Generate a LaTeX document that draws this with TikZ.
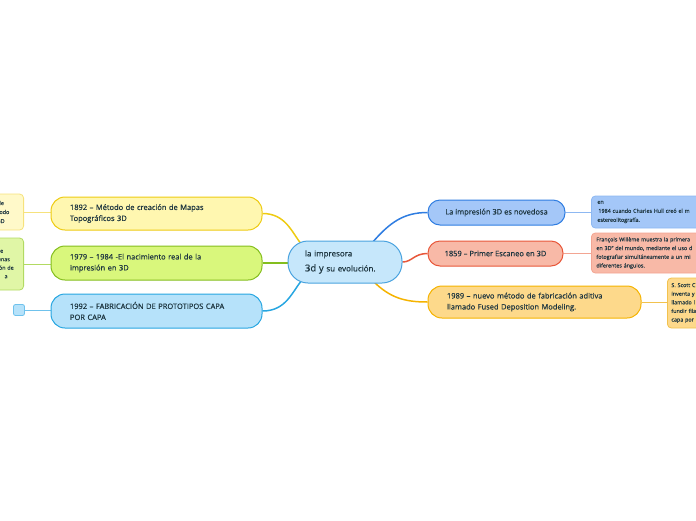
\documentclass[tikz,border=0pt]{standalone}
\usepackage{fontspec}
\setmainfont{Open Sans}
\newfontfamily\semib[FakeBold=0.5]{Open Sans}
\newfontfamily\leaffont[FakeBold=0.2]{Open Sans}
\usetikzlibrary{backgrounds}
\definecolor{txt}{HTML}{1E3640}
\definecolor{cenF}{HTML}{C6E7FB}
\definecolor{cenD}{HTML}{4AA3DF}
\definecolor{yelF}{HTML}{FFF7B0}
\definecolor{yelD}{HTML}{EECB12}
\definecolor{yelLF}{HTML}{FFF9C9}
\definecolor{yelLD}{HTML}{F6E27C}
\definecolor{grnF}{HTML}{D9F77C}
\definecolor{grnD}{HTML}{84BE1E}
\definecolor{grnLF}{HTML}{E0F6A6}
\definecolor{grnLD}{HTML}{B2DA62}
\definecolor{bluF}{HTML}{B6E2FA}
\definecolor{bluD}{HTML}{27A6E1}
\definecolor{bluLD}{HTML}{6FC2EC}
\definecolor{r1F}{HTML}{A4C7F8}
\definecolor{r1D}{HTML}{2F7DE1}
\definecolor{r1L}{HTML}{8DB8F2}
\definecolor{r2F}{HTML}{F8B9A7}
\definecolor{r2D}{HTML}{E8573A}
\definecolor{r2L}{HTML}{F3A592}
\definecolor{r3F}{HTML}{FDD98B}
\definecolor{r3D}{HTML}{F5B300}
\definecolor{r3L}{HTML}{F2C24E}
\tikzset{
  mainbox/.style={draw, rounded corners=14pt, line width=1pt, text=txt,
    font=\semib\fontsize{7.5}{11}\selectfont, align=left, inner ysep=0pt},
  leafbox/.style={draw, rounded corners=4pt, line width=0.8pt, text=txt,
    font=\leaffont\fontsize{5.4}{9}\selectfont, align=left, inner ysep=0pt},
  trunk/.style={line width=1.5pt},
  twig/.style={line width=1pt}
}
\begin{document}
\begin{tikzpicture}[x=1pt,y=-1pt]
\useasboundingbox (0,0) rectangle (696,520);
\clip (0,0) rectangle (696,520);

% centre
\node[draw=cenD, fill=cenF, rounded corners=20pt, line width=1pt, text=txt,
  minimum width=114, minimum height=42, text width=80, inner xsep=17, inner ysep=0pt,
  align=left, font=\semib\fontsize{8}{15}\selectfont] (c) at (345,262)
  {la impresora\\{\fontsize{9.5}{15}\selectfont 3d y} su evolución.};

% left main nodes
\node[mainbox, fill=yelF, draw=yelD, minimum width=211, minimum height=33,
  text width=173, inner xsep=19] (n1) at (156.5,213.5)
  {1892 – Método de creación de Mapas\\Topográficos 3D};
\node[mainbox, fill=grnF, draw=grnD, minimum width=211, minimum height=34,
  text width=173, inner xsep=19] (n2) at (156.5,263)
  {1979 – 1984 -El nacimiento real de la\\impresión en 3D};
\node[mainbox, fill=bluF, draw=bluD, minimum width=211, minimum height=34,
  text width=173, inner xsep=19] (n3) at (156.5,311)
  {1992 – FABRICACIÓN DE PROTOTIPOS CAPA\\POR CAPA};

% left leaves
\node[leafbox, fill=yelLF, draw=yelLD, anchor=east, minimum height=36,
  text width=20, inner xsep=6] (ll1) at (24,212) {de\\todo\\3D};
\node[leafbox, fill=grnLF, draw=grnLD, anchor=east, minimum height=52,
  text width=20, inner xsep=6, font=\leaffont\fontsize{5.4}{8.5}\selectfont] (ll2) at (24,264)
  {se\\unas\\ión de\\\hspace*{7pt}a};
\node[draw=bluLD, fill=bluF, rounded corners=2pt, line width=0.8pt,
  minimum size=11, inner sep=0pt] (sq) at (19,310) {};

% right main nodes
\node[mainbox, fill=r1F, draw=r1D, minimum width=137, minimum height=25,
  rounded corners=12pt, align=center, inner xsep=0pt] (r1) at (496.5,212.5)
  {La impresión 3D es novedosa};
\node[mainbox, fill=r2F, draw=r2D, minimum width=135, minimum height=25,
  rounded corners=12pt, align=center, inner xsep=0pt] (r2) at (495.5,253.5)
  {1859 – Primer Escaneo en 3D};
\node[mainbox, fill=r3F, draw=r3D, minimum width=213, minimum height=32,
  text width=175, inner xsep=19] (r3) at (534.5,302)
  {1989 – nuevo método de fabricación aditiva\\llamado Fused Deposition Modeling.};

% right leaves
\node[leafbox, fill=r1F, draw=r1L, anchor=west, minimum height=32,
  text width=188, inner xsep=6] (l1) at (591,212)
  {en\\\hspace*{1pt}1984 cuando Charles Hull creó el m\\estereolitografía.};
\node[leafbox, fill=r2F, draw=r2L, anchor=west, minimum height=40,
  text width=188, inner xsep=5, font=\leaffont\fontsize{5.4}{8.7}\selectfont] (l2) at (591,253)
  {François Willème muestra la primera\\en 3D” del mundo, mediante el uso d\\fotografiar simultáneamente a un mi\\diferentes ángulos.};
\node[leafbox, fill=r3F, draw=r3L, anchor=west, minimum height=50,
  text width=120, inner xsep=4, font=\leaffont\fontsize{5.4}{8.6}\selectfont] (l3) at (667,303)
  {S. Scott C\\inventa y\\llamado l\\fundir fila\\capa por};

\begin{scope}[on background layer]
  \coordinate (cy) at (302,245);
  \coordinate (cb) at (302,280);
  \coordinate (cr1) at (372,243);
  \coordinate (cr3) at (373,281);
  \draw[trunk, yelD] (n1.east) .. controls (286,213.5) and (292,233) .. (cy);
  \draw[trunk, grnD] (n2.east) -- (c.west |- n2.east);
  \draw[trunk, bluD] (n3.east) .. controls (286,311) and (292,292) .. (cb);
  \draw[trunk, r1D] (cr1) .. controls (390,222) and (404,212.5) .. (r1.west);
  \draw[trunk, r2D] (c.east) .. controls (412,262) and (414,253.5) .. (r2.west);
  \draw[trunk, r3D] (cr3) .. controls (390,298) and (405,302) .. (r3.west);
  \draw[twig, yelLD] (ll1.east) -- (ll1.east -| n1.west);
  \draw[twig, grnLD] (ll2.east) -- (ll2.east -| n2.west);
  \draw[twig, bluLD] (sq.east) -- (sq.east -| n3.west);
  \draw[twig, r1L] (r1.east) -- (r1.east -| l1.west);
  \draw[twig, r2L] (r2.east) -- (r2.east -| l2.west);
  \draw[twig, r3L] (r3.east) -- (r3.east -| l3.west);
\end{scope}
\end{tikzpicture}
\end{document}
